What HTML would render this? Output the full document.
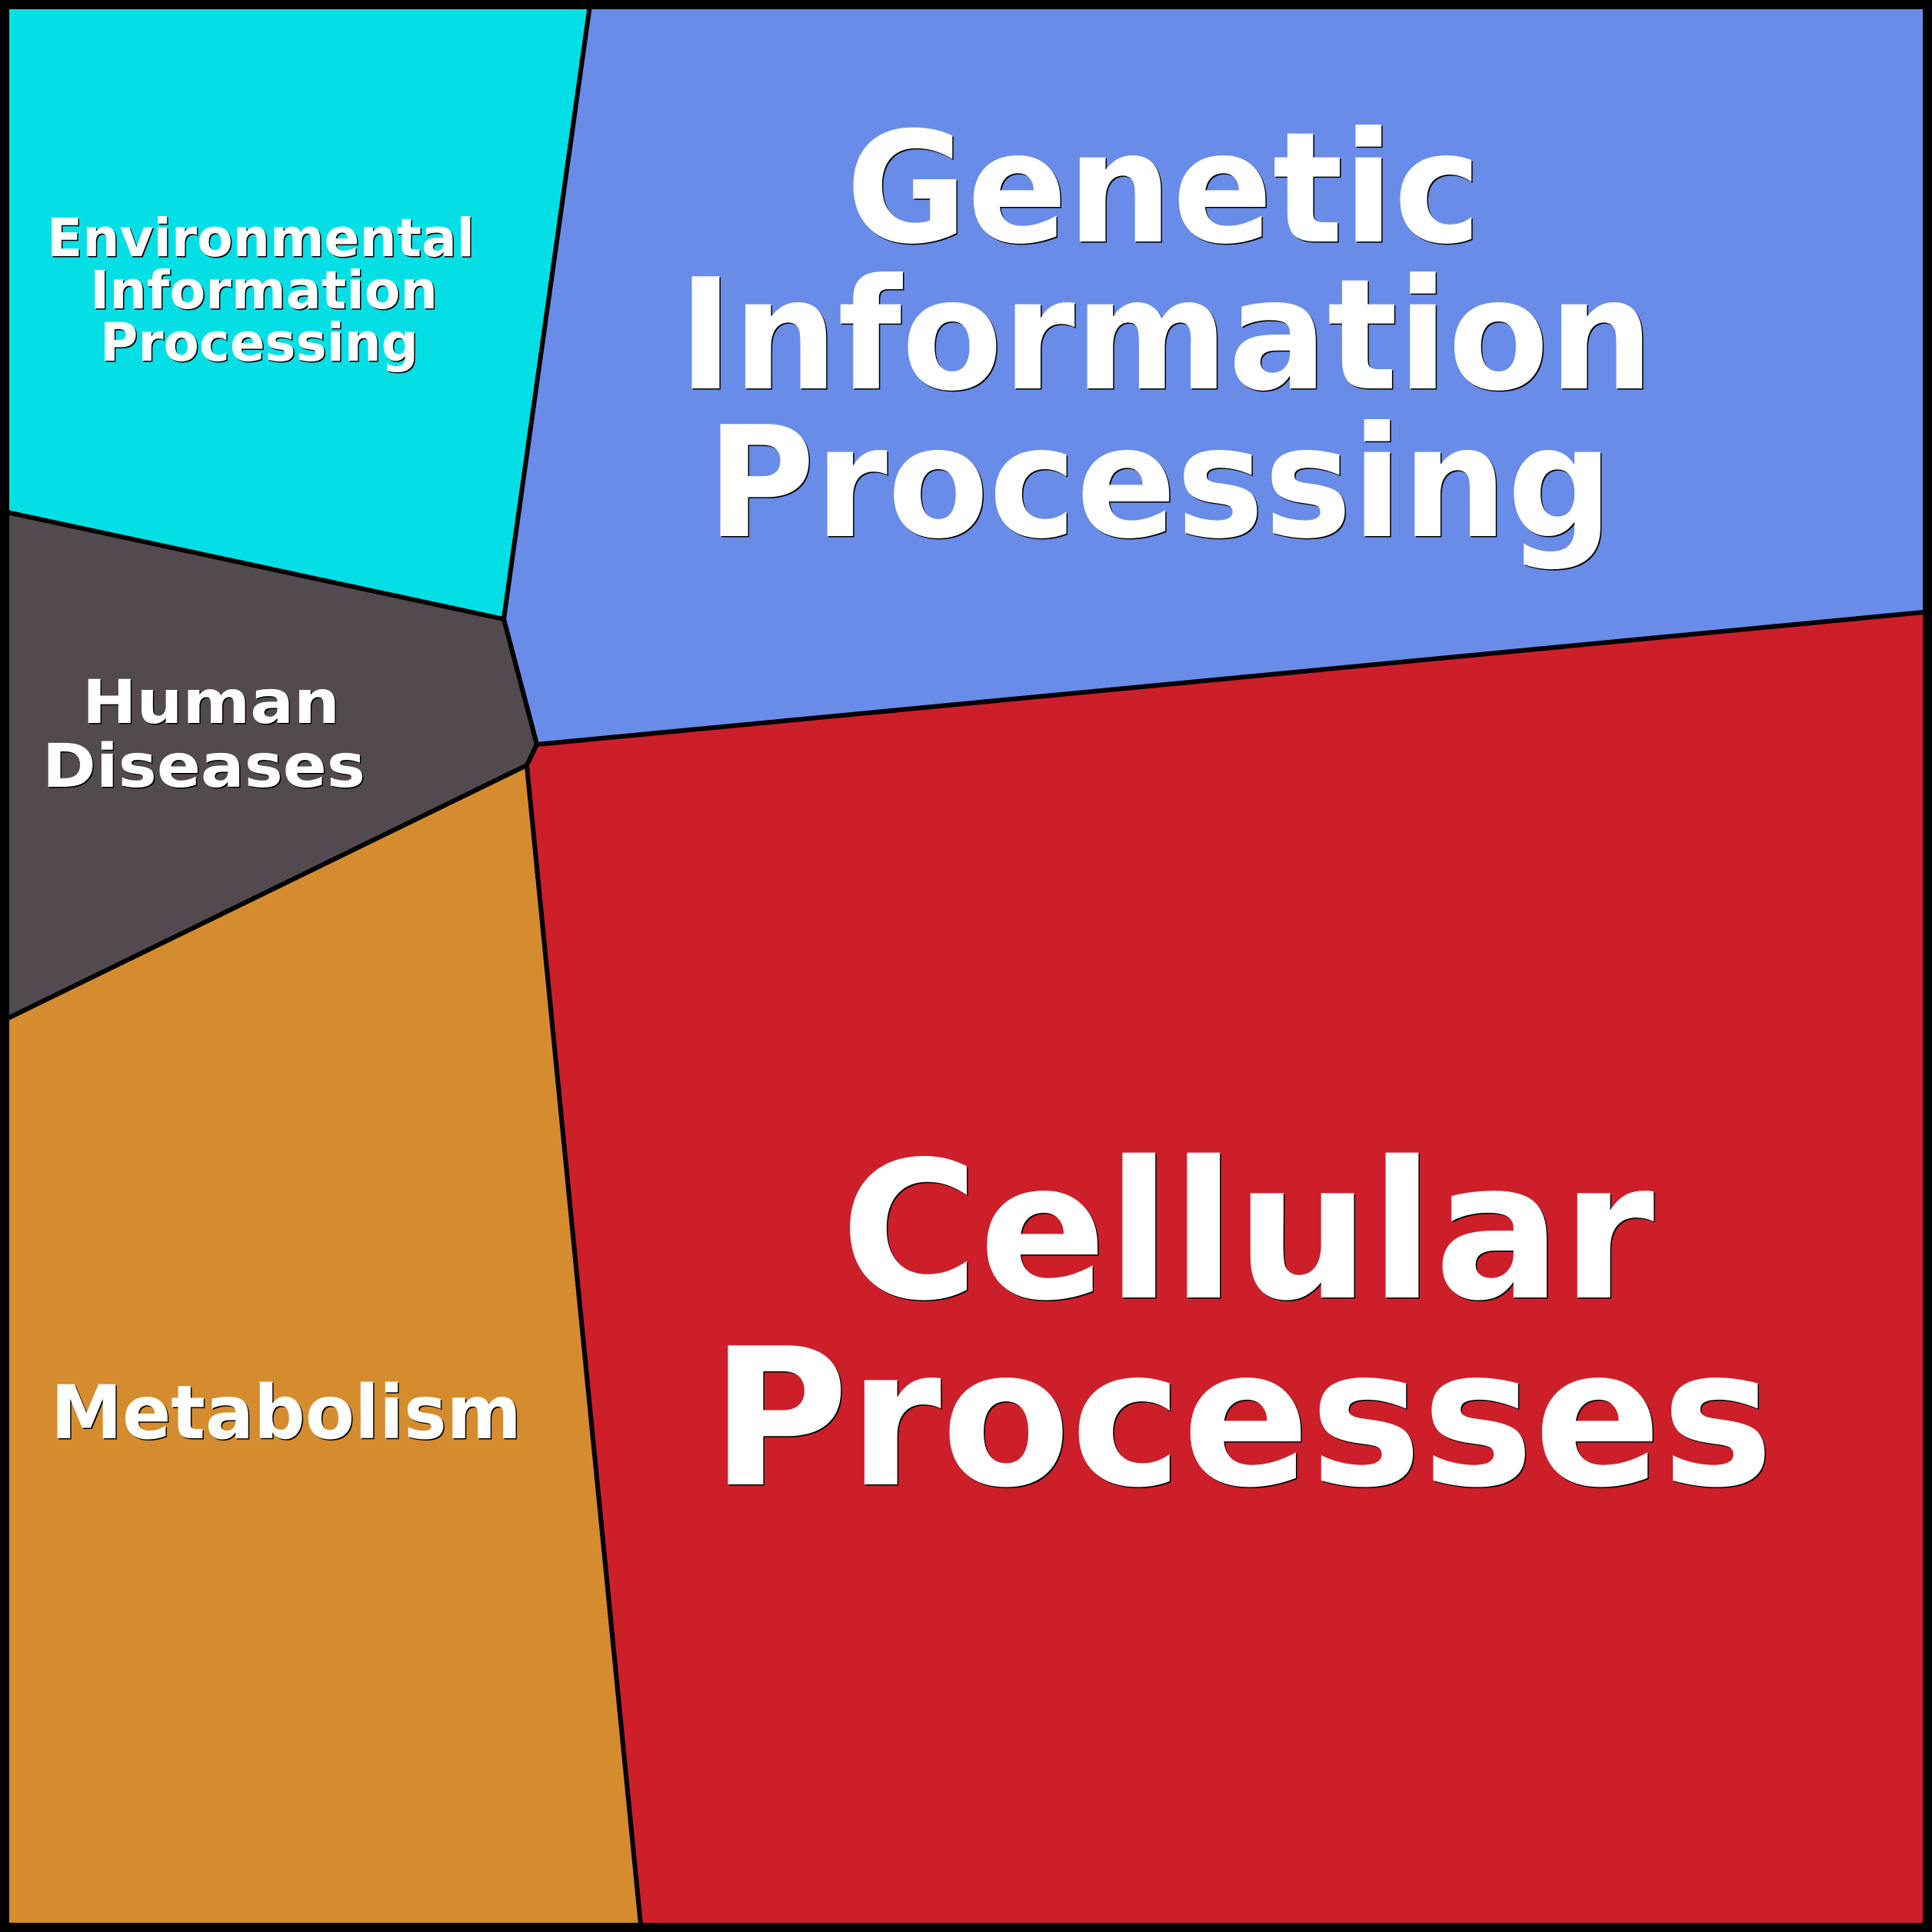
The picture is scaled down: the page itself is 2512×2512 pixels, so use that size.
<!DOCTYPE html>
<html>
<head>
<meta charset="utf-8">
<style>
html,body{margin:0;padding:0;background:#fff;}
svg{display:block;}
text{font-family:"DejaVu Sans","Liberation Sans",sans-serif;font-weight:bold;}
</style>
</head>
<body>
<svg width="2512" height="2512" viewBox="0 0 2512 2512" xmlns="http://www.w3.org/2000/svg">
  <g stroke="#000" stroke-width="6" stroke-linejoin="round">
    <polygon points="0,0 768,0 655,805 0,664" fill="#04DFE5"/>
    <polygon points="768,0 2512,0 2512,795 698,968 655,805" fill="#688CE8"/>
    <polygon points="0,664 655,805 698,968 685,995 0,1329" fill="#524A4F"/>
    <polygon points="0,1329 685,995 834,2512 0,2512" fill="#D58C2E"/>
    <polygon points="698,968 2512,795 2512,2512 834,2512 685,995" fill="#CD1F2A"/>
  </g>
  <rect x="6" y="6" width="2500" height="2500" fill="none" stroke="#000" stroke-width="12"/>

  <!-- shadows -->
  <g fill="#000" transform="translate(1.5,1.5)">
    <text x="61" y="333" font-size="69" textLength="556" lengthAdjust="spacingAndGlyphs">Environmental</text>
    <text x="117" y="401" font-size="69" textLength="452" lengthAdjust="spacingAndGlyphs">Information</text>
    <text x="130" y="469" font-size="69" textLength="414" lengthAdjust="spacingAndGlyphs">Processing</text>

    <text x="107" y="940" font-size="78" textLength="335" lengthAdjust="spacingAndGlyphs">Human</text>
    <text x="55" y="1023" font-size="78" textLength="420" lengthAdjust="spacingAndGlyphs">Diseases</text>

    <text x="66" y="1870" font-size="96" textLength="612" lengthAdjust="spacingAndGlyphs">Metabolism</text>

    <text x="1100" y="314" font-size="200" textLength="826" lengthAdjust="spacingAndGlyphs">Genetic</text>
    <text x="882" y="505" font-size="200" textLength="1268" lengthAdjust="spacingAndGlyphs">Information</text>
    <text x="919" y="697" font-size="200" textLength="1178" lengthAdjust="spacingAndGlyphs">Processing</text>

    <text x="1093" y="1687" font-size="248" textLength="1058" lengthAdjust="spacingAndGlyphs">Cellular</text>
    <text x="924" y="1930" font-size="248" textLength="1382" lengthAdjust="spacingAndGlyphs">Processes</text>
  </g>
  <g fill="#fff">
    <text x="61" y="333" font-size="69" textLength="556" lengthAdjust="spacingAndGlyphs">Environmental</text>
    <text x="117" y="401" font-size="69" textLength="452" lengthAdjust="spacingAndGlyphs">Information</text>
    <text x="130" y="469" font-size="69" textLength="414" lengthAdjust="spacingAndGlyphs">Processing</text>

    <text x="107" y="940" font-size="78" textLength="335" lengthAdjust="spacingAndGlyphs">Human</text>
    <text x="55" y="1023" font-size="78" textLength="420" lengthAdjust="spacingAndGlyphs">Diseases</text>

    <text x="66" y="1870" font-size="96" textLength="612" lengthAdjust="spacingAndGlyphs">Metabolism</text>

    <text x="1100" y="314" font-size="200" textLength="826" lengthAdjust="spacingAndGlyphs">Genetic</text>
    <text x="882" y="505" font-size="200" textLength="1268" lengthAdjust="spacingAndGlyphs">Information</text>
    <text x="919" y="697" font-size="200" textLength="1178" lengthAdjust="spacingAndGlyphs">Processing</text>

    <text x="1093" y="1687" font-size="248" textLength="1058" lengthAdjust="spacingAndGlyphs">Cellular</text>
    <text x="924" y="1930" font-size="248" textLength="1382" lengthAdjust="spacingAndGlyphs">Processes</text>
  </g>
</svg>
</body>
</html>
